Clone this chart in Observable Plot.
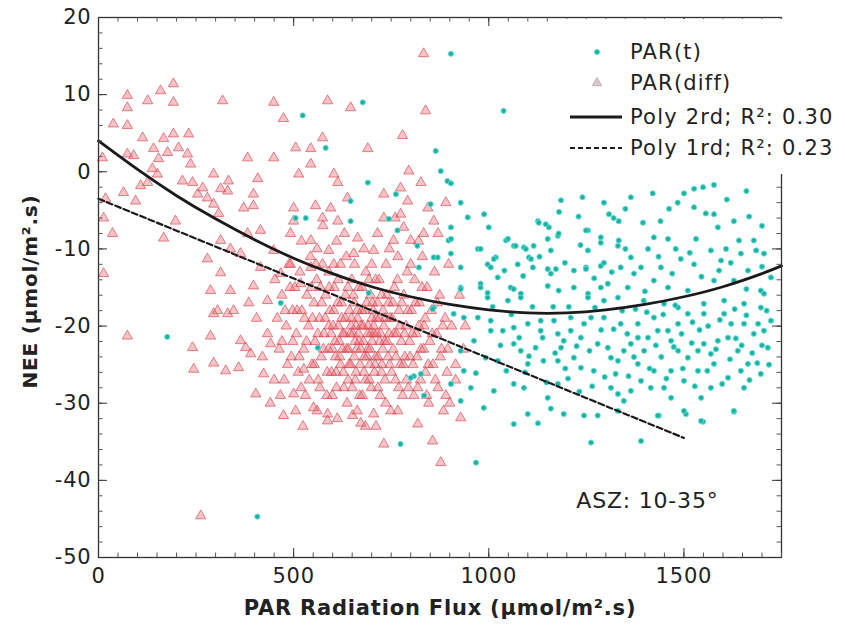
<!DOCTYPE html>
<html><head><meta charset="utf-8">
<script src="https://cdn.jsdelivr.net/npm/d3@7"></script>
<script src="https://cdn.jsdelivr.net/npm/@observablehq/plot@0.6"></script>
<style>body{margin:0;background:#fff} svg{display:block}</style>
</head><body><div id="chart"></div>
<script>
// PAR(t) points [PAR flux, NEE]
const parT = [
[903,15.3],[1038,7.9],[677,9],[523,7.3],[582,3.1],[690,-1.4],[762,-2.9],[646,-3.8],[864,2.7],[877,0.1],[851,-4.2],[894,-1.2],[505,-6],[531,-6],[646,-6.4],[744,-6.1],[766,-7.6],[817,-9.6],[821,-12.4],[859,-11.1],[467,-17],[692,-15.7],[859,-17.6],
[176,-21.4],[407,-44.7],[774,-35.3],[834,-29],[808,-26.5],
[967,-37.7],[1262,-35.1],[1390,-34.9],[1628,-31.1],[1549,-32.4],[1505,-31.4],[1436,-31.6],
[903,-1.5],[928,-4],[988,-5.5],[946,-5.9],[903,-7.2],[1185,-3.7],[1240,-3.3],[1295,-4],[1364,-3.3],[1420,-2.8],[1500,-2.8],[1526,-2.2],[1577,-1.7],[1549,-2],[1462,-4.8],[1484,-4],[1526,-4.6],[1556,-5.4],[1577,-5.5],[1308,-5.5],[1333,-6.4],[1395,-6.6],[1628,-6.4],[1667,-5.8],[1587,-7.2],[1126,-6.4],[1154,-7.2],[1254,-7.6],[972,-10],[1018,-11.1],[1044,-8.9],[1064,-9.6],[1090,-9.8],[1115,-9.6],[1151,-8.7],[1177,-8.3],[1103,-11.1],[1074,-12],[1254,-10.2],[1287,-9.2],[1333,-8.9],[1364,-11.1],[1408,-10],[1423,-8.5],[1459,-8.7],[1479,-10],[1531,-8.7],[1569,-10.2],[1608,-10],[1641,-8.9],[1679,-8.9],[1685,-10.2],[1646,-10.6],[1595,-11.5],[1526,-12],[1492,-11.3],[1441,-12.4],[1390,-12.4],[1338,-12.4],[1287,-12.2],[1249,-12.4],[1218,-12.8],[1151,-12.6],[997,-12],[979,-14.5],[1023,-13.7],[1056,-15],[928,-15],[928,-12.4],[903,-10.6],[869,-11.1],[897,-8.9],[1218,-15],[1254,-15.8],[1305,-14.5],[1356,-15],[1372,-13.2],[1423,-14.1],[1459,-15],[1510,-15.4],[1577,-14.1],[1628,-14.1],[1664,-12.8],[1697,-15.4],[1723,-13.7],[1705,-10.6],
[1005,-20.6],[1036,-20.6],[962,-21.9],[992,-24.1],[1023,-24.5],[1064,-22.3],[1082,-23.2],[1103,-23.9],[1100,-24.9],[1133,-20.6],[1138,-21.5],[1177,-21],[1192,-21.9],[1185,-22.8],[1210,-20.6],[1244,-19.7],[1236,-21.5],[1279,-22.3],[1305,-22.8],[1313,-24.1],[1331,-24.5],[1346,-23.2],[1364,-22.3],[1382,-21.5],[1408,-21.5],[1433,-20.6],[1459,-20.6],[1467,-21.9],[1485,-23.2],[1510,-24.1],[1536,-23.2],[1551,-22.3],[1569,-23.6],[1587,-21.9],[1613,-21.5],[1638,-23.2],[1664,-24.9],[1679,-21],[1705,-20.6],[1690,-19.7],[1654,-19.7],[1621,-19.7],[1603,-18.4],[1551,-18.4],[1510,-18.4],[1485,-19.7],[1423,-18.9],[1382,-19.7],[1338,-19.7],[1295,-18.9],[1262,-18.9],[1210,-18.9],[1167,-19.3],[1133,-19.3],[1100,-19.7],[1064,-20.2],[1005,-19.3],[972,-18.9],
[967,-26.1],[1013,-28.4],[1064,-27.5],[1090,-28],[1151,-29.3],[1177,-27.5],[1203,-26.8],[1236,-25.4],[1269,-25.8],[1313,-28],[1331,-28.8],[1346,-29.7],[1364,-28.4],[1390,-27.1],[1415,-28],[1449,-28],[1467,-29.3],[1500,-27.1],[1544,-29.3],[1569,-28],[1613,-26.7],[1646,-25.8],[1697,-26.2],[1654,-28],[1423,-25.8],[1467,-25.8],[1536,-25.8],[1577,-24.9],[1382,-24.9],[1177,-24.5],[1218,-24.1],
[987,-30.6],[1064,-32.7],[1100,-31.4],[1126,-32.6],[1159,-30.7],[1192,-31.4],[1244,-31.6],[1279,-31.6],[1331,-31],[1433,-31.6],[1500,-31],[1544,-32.3],[1628,-31],
[997,-16.3],[1049,-16.7],[1082,-15.8],[1254,-16.3],[1295,-16.7],[1331,-16.3],[1397,-16.7],[1449,-17.1],[1485,-17.6],[1551,-17.1],[1603,-16.7],[1654,-17.1],[1697,-17.6],[1705,-15.8],
[1723,-19.3],[1715,-22.8],[936,-25.8],[954,-28],[928,-29.7],[903,-27.5],
[903,-8.7],[928,-15.2],[856,-17.8],[910,-18.4],[936,-18.9],[826,-26.2],[800,-26.7],[928,-23.2],[562,-22.8],
[1000,-7.2],[1128,-6.6],[1146,-6.8],[1179,-8],[1249,-7.6],[1287,-8.5],[1320,-6],[1049,-8.7],[1069,-9.6],[1095,-10],[979,-10],[1013,-11.3],[1005,-12.4],[1108,-11.3],[1113,-12.4],[1159,-13.2],[1172,-12.6],[1159,-10.2],[1249,-12.6],[1295,-11.8],[1331,-9.6],[979,-15],[997,-15.7],[1064,-15.2],[1082,-16.3],[1151,-14.8],[1179,-15.4],[1287,-15],
[1010,-17.5],[1030,-22.5],[1045,-25.8],[1058,-18.5],[1078,-21.5],[1093,-26],[1112,-17.5],[1120,-22.8],[1140,-24.5],[1148,-27.3],[1165,-17.5],[1170,-23.5],[1196,-25.5],[1205,-17.5],[1225,-22.6],[1232,-28.5],[1258,-23.2],[1265,-27.8],[1272,-17.6],[1288,-20.5],[1297,-26.6],[1320,-20.4],[1325,-26.2],[1342,-18],[1355,-21],[1358,-26.5],[1372,-24],[1376,-17.8],[1398,-23.2],[1405,-18.2],[1412,-25.5],[1428,-22.5],[1442,-24],[1447,-18.5],[1455,-26.8],[1474,-22.7],[1478,-17.3],[1494,-21],[1497,-25.5],[1520,-22.2],[1522,-19.5],[1528,-27.8],[1540,-20.5],[1560,-25.8],[1562,-20],[1582,-23],[1592,-19.2],[1598,-27.5],[1618,-24.3],[1630,-17.8],[1633,-21.6],[1648,-22.5],[1660,-18.6],[1668,-27],[1675,-23.5],[1688,-24.8],[1700,-22.5],[1712,-18],[1718,-25],
[1040,-12.8],[1088,-13.5],[1130,-11],[1195,-11.8],[1235,-9.5],[1270,-13.8],[1315,-13],[1350,-10],[1400,-15.5],[1435,-11],[1470,-13.2],[1515,-10.5],[1545,-13.6],[1590,-12.8],[1620,-11.8],[1660,-15.2],[1700,-12.3],
[1180,-5.2],[1230,-5.8],[1350,-4.8],[1440,-6.4],[1610,-3.6],[1660,-2.5],[1700,-7]
];
// PAR(diff) points [PAR flux, NEE]
const parDiff = [
[833,15.3],[838,7.9],[587,9.2],[646,8.3],[449,9],[474,6.9],[318,9.2],[192,11.4],[192,9],[159,10.5],[126,9.2],[74,9.9],[74,8.3],[38,6.2],[74,6],[113,4.4],[167,4.3],[192,4.9],[231,4.9],[10,1.8],[74,2.3],[90,2.1],[141,3],[154,1.7],[177,2.5],[205,3.1],[228,2.3],[236,1],[138,0.4],[151,-0.3],[126,-1.4],[108,-1.8],[215,-1.2],[241,-1.4],[267,-2.1],[254,-2.9],[279,-3.4],[295,-0.3],[333,-1.2],[313,-2.2],[331,-2.5],[295,-4.2],[308,-5.4],[64,-2.7],[95,-3.8],[18,-3.5],[13,-6],[36,-8],[13,-13.2],[167,-8.6],[197,-6.4],[382,1.8],[449,1.8],[408,-0.9],[372,-4.7],[397,-4.4],[397,-2.9],[505,3.1],[544,3],[544,1],[513,-0.3],[574,4.4],[603,-0.3],[613,-1.4],[690,3],[779,4.7],[795,0.1],[826,-1.4],[638,-3.4],[731,-2.9],[774,-2.1],[792,-3.8],[500,-4.7],[556,-4.4],[595,-4.7],[500,-6.4],[492,-8],[544,-8.9],[574,-6],[613,-6.4],[731,-6],[774,-5.5],[782,-7.2],[715,-8],[664,-8.6],[590,-10.2],[603,-12],[654,-10.6],[705,-10.2],[756,-8.9],[800,-8.9],[833,-8],[859,-6.4],[844,-4.7],[279,-11.3],[313,-8.9],[338,-10],[313,-13.1],[287,-15.4],[338,-15.4],[382,-8],[415,-7.6],[364,-10.6],[415,-12.4],[449,-10.2],[467,-13.2],[492,-12],[518,-14.5],[544,-12.4],[569,-15],[397,-14.8],[433,-16.7],[305,-18],[346,-18],
[74,-21.3],[241,-22.8],[287,-21.3],[244,-25.6],[295,-24.8],[326,-25.8],[359,-25.4],[377,-22.8],[390,-23.6],[423,-26.2],[433,-21],[441,-22.3],[403,-28.8],[500,-28.8],[474,-31.6],[526,-25.6],[551,-30.6],[587,-31.4],[587,-32.3],[651,-31.6],[672,-32.6],[705,-31.4],[731,-35.3],[767,-31],[818,-32.7],[856,-34.9],[877,-37.7],[262,-44.6],[364,-21.9],[295,-18.4],[331,-18.4],
[420,-24],[450,-27],[440,-30],[405,-19],[385,-17],[470,-22],[928,-31.9],[900,-30],[915,-25],[940,-20],
[452,-14],[458,-19],[463,-23],[470,-16],[476,-27],[481,-20],[488,-12],[494,-24],[497,-18],[466,-29],
[503,-15],[507,-21],[512,-26],[516,-13],[521,-18],[526,-23],[530,-29],[534,-16],[538,-20],[543,-11],[547,-25],[505,-31],[524,-33],
[552,-17],[555,-22],[559,-14],[563,-27],[566,-19],[571,-24],[574,-12],[578,-21],[582,-16],[585,-29],[589,-23],[593,-18],[597,-26],[560,-31],[590,-13],
[601,-20],[604,-15],[607,-24],[610,-28],[613,-17],[617,-22],[620,-12],[623,-19],[627,-26],[630,-21],[633,-16],[637,-30],[640,-23],[643,-18],[646,-25],[649,-14],[612,-32],[635,-11],
[652,-21],[655,-17],[658,-27],[661,-23],[664,-19],[667,-15],[670,-25],[673,-20],[676,-29],[679,-22],[682,-18],[685,-13],[688,-24],[691,-20],[694,-27],[697,-16],[663,-31],[684,-33],[656,-12],
[701,-22],[704,-18],[707,-26],[710,-14],[713,-21],[716,-24],[719,-19],[722,-29],[725,-16],[728,-23],[731,-20],[734,-27],[737,-12],[740,-22],[743,-17],[746,-25],[749,-31],[711,-33],
[752,-19],[755,-23],[758,-15],[761,-27],[764,-21],[767,-11],[770,-18],[773,-25],[776,-22],[779,-29],[782,-16],[785,-24],[788,-20],[791,-13],[794,-28],[797,-22],
[802,-18],[806,-25],[810,-14],[814,-21],[818,-28],[822,-17],[826,-23],[830,-11],[834,-20],[838,-26],[842,-15],[846,-30],[849,-22],
[853,-18],[857,-25],[861,-13],[866,-21],[870,-28],[874,-16],[879,-23],[884,-31],[888,-19],[893,-26],[897,-12],
[905,-20],[915,-27],[925,-16],[935,-23],
[615,-20],[625,-23],[645,-21],[660,-20],[668,-22],[675,-18],[690,-23],[698,-21],[705,-20],[715,-17],[720,-22],[735,-19],[745,-21],[648,-19],[695,-25],[725,-26],[655,-24],[680,-26],[710,-24],[640,-27],[600,-23],[590,-20],[620,-25],[700,-19],
[520,-9],[560,-10],[575,-7],[610,-9],[630,-8],[680,-10],[700,-12],[745,-10],[760,-6],[800,-12],[820,-9],[870,-8],[890,-4],
[548,-19],[553,-25],[557,-12],[562,-21],[567,-28],[572,-17],[576,-23],[581,-19],[586,-26],[591,-15],[596,-21],[599,-29],
[603,-18],[606,-22],[609,-26],[614,-14],[618,-24],[622,-17],[626,-21],[629,-28],[632,-19],[636,-23],[639,-15],[642,-25],[647,-20],[650,-28],
[653,-16],[657,-22],[660,-26],[663,-18],[666,-21],[669,-29],[672,-23],[675,-15],[678,-20],[681,-24],[684,-27],[687,-17],[690,-21],[693,-14],[696,-23],[699,-28],
[702,-17],[706,-21],[709,-25],[712,-19],[716,-28],[719,-14],[723,-21],[726,-25],[729,-18],[733,-22],[736,-30],[739,-16],[742,-24],[747,-19],
[751,-26],[754,-17],[757,-21],[762,-24],[766,-14],[769,-28],[772,-20],[777,-17],[781,-25],[784,-21],[789,-27],[793,-18],[798,-24],
[804,-21],[808,-29],[812,-17],[816,-24],[821,-20],[825,-27],[829,-15],[833,-23],[837,-19],[841,-29],[845,-25],
[855,-21],[863,-27],[868,-17],[876,-24],[882,-20],[890,-29],[895,-23],
[478,-18],[484,-25],[491,-15],[498,-22],[509,-18],[514,-24],[519,-28],[528,-19],[533,-22],[540,-27],[545,-15]
];
// Fitted curves
const poly2X = [0,100,200,300,400,500,600,700,800,900,1000,1100,1200,1300,1400,1500,1600,1700,1750];
const poly2Y = [4.0,0.3,-3.1,-6.1,-8.8,-11.2,-13.2,-14.9,-16.2,-17.2,-17.9,-18.3,-18.3,-17.9,-17.2,-16.2,-14.9,-13.2,-12.2];
const poly1X = [0,1500];
const poly1Y = [-3.5,-34.5];
// Axes
const xDomain = [0,1750];
const yDomain = [-50,20];
const xMajor = [0,500,1000,1500];
const yMajor = [20,10,0,-10,-20,-30,-40,-50];
const xMinor = d3.range(0,1751,50);
const yMinor = d3.range(-50,21,2);
const legendLabels = ["PAR(t)","PAR(diff)","Poly 2rd; R\u00b2: 0.30","Poly 1rd; R\u00b2: 0.23"];
const xTitle = "PAR Radiation Flux (\u03bcmol/m\u00b2.s)";
const yTitle = "NEE (\u03bcmol/m\u00b2.s)";
const note = "ASZ: 10-35\u00b0";

const W=845,H=628,mL=98,mR=64,mT=17,mB=71;
const pw=W-mL-mR, ph=H-mT-mB;
const majLen=9, minLen=4.5;
const font="DejaVu Sans";

const tData = parT.map(([x,y])=>({x,y}));
const dData = parDiff.map(([x,y])=>({x,y}));
const p2 = poly2X.map((x,i)=>({x,y:poly2Y[i]}));
const p1 = poly1X.map((x,i)=>({x,y:poly1Y[i]}));

const chart = Plot.plot({
  width:W, height:H, marginLeft:mL, marginRight:mR, marginTop:mT, marginBottom:mB,
  x:{domain:xDomain}, y:{domain:yDomain},
  style:{fontFamily:font, fontSize:"21px", color:"#222", background:"#fff", letterSpacing:"0.8px"},
  marks:[
    Plot.dot(dData,{x:"x",y:"y",symbol:"triangle",r:3.8,stroke:"#d24a55",strokeOpacity:0.75,strokeWidth:0.9,fill:"#ee4452",fillOpacity:0.32}),
    Plot.dot(tData,{x:"x",y:"y",r:2.6,fill:"#1fb0a3",stroke:"#5fe0d5",strokeWidth:0.9}),
    Plot.line(p2,{x:"x",y:"y",curve:"natural",stroke:"#1a1a1a",strokeWidth:2.8}),
    Plot.line(p1,{x:"x",y:"y",stroke:"#1a1a1a",strokeWidth:2.2,strokeDasharray:"6,3"}),
    Plot.frame({stroke:"#333",strokeWidth:1.3}),
    Plot.tickX(xMinor,{x:d=>d,insetTop:ph-minLen,stroke:"#555"}),
    Plot.tickX(xMajor,{x:d=>d,insetTop:ph-majLen,stroke:"#333"}),
    Plot.tickX(xMinor,{x:d=>d,insetBottom:ph-minLen,stroke:"#555"}),
    Plot.tickX(xMajor,{x:d=>d,insetBottom:ph-majLen,stroke:"#333"}),
    Plot.tickY(yMinor,{y:d=>d,insetRight:pw-minLen,stroke:"#555"}),
    Plot.tickY(yMajor,{y:d=>d,insetRight:pw-majLen,stroke:"#333"}),
    Plot.tickY(yMinor,{y:d=>d,insetLeft:pw-minLen,stroke:"#555"}),
    Plot.tickY(yMajor,{y:d=>d,insetLeft:pw-majLen,stroke:"#333"}),
    Plot.axisX(xMajor,{tickSize:0,tickPadding:11,label:null,tickFormat:d=>String(d),fontSize:21}),
    Plot.axisY(yMajor,{tickSize:0,tickPadding:7,label:null,tickFormat:d=>String(d),fontSize:21}),
    Plot.text([xTitle],{frameAnchor:"bottom",dy:51,textAnchor:"middle",lineAnchor:"middle",fontWeight:"bold",fontSize:21}),
    Plot.text([yTitle],{frameAnchor:"left",rotate:-90,dx:-68,dy:4,textAnchor:"middle",lineAnchor:"middle",fontWeight:"bold",fontSize:20}),
    Plot.text([note],{frameAnchor:"bottom-right",dx:-63,dy:-57,textAnchor:"end",lineAnchor:"middle",fontSize:22})
  ]
});
document.getElementById("chart").appendChild(chart);

// Legend (inside top-right corner)
const svg = d3.select(chart);
const g = svg.append("g").attr("font-family",font).attr("font-size",21).attr("fill","#222").attr("text-anchor","start").style("letter-spacing","1.2px");
g.append("rect").attr("x",555).attr("y",19).attr("width",240).attr("height",155).attr("fill","#fff");
const ly=[52,83,117,148], tx=630, mx=597;
g.append("circle").attr("cx",mx).attr("cy",ly[0]).attr("r",2.6).attr("fill","#1fb0a3").attr("stroke","#5fe0d5").attr("stroke-width",0.9);
g.append("path").attr("d",d3.symbol(d3.symbolTriangle,40)()).attr("transform",`translate(${mx},${ly[1]})`).attr("fill","#d8c8c8").attr("stroke","#b8a8a8").attr("stroke-width",0.8);
g.append("line").attr("x1",570).attr("x2",622).attr("y1",ly[2]).attr("y2",ly[2]).attr("stroke","#1a1a1a").attr("stroke-width",2.8);
g.append("line").attr("x1",570).attr("x2",622).attr("y1",ly[3]).attr("y2",ly[3]).attr("stroke","#1a1a1a").attr("stroke-width",2).attr("stroke-dasharray","5,3");
legendLabels.forEach((t,i)=>g.append("text").attr("x",tx).attr("y",ly[i]).attr("dy","0.35em").attr("text-anchor","start").text(t));
</script>
</body></html>
